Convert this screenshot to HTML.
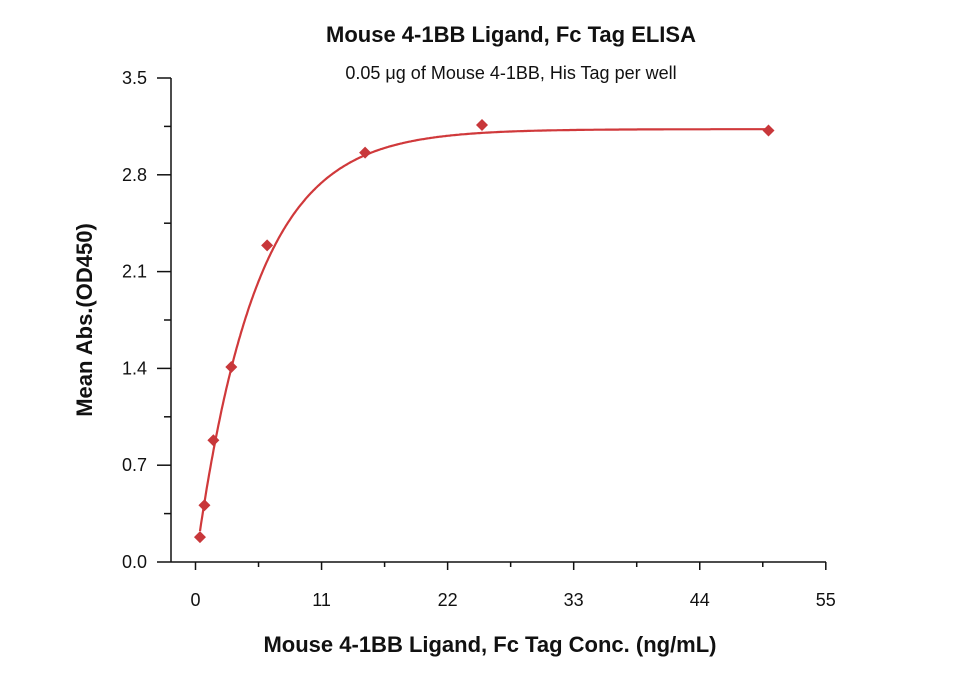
<!DOCTYPE html>
<html><head><meta charset="utf-8"><style>
html,body{margin:0;padding:0;background:#fff;}
svg{display:block;font-family:"Liberation Sans","DejaVu Sans",sans-serif;}
</style></head><body>
<svg id="chart" width="960" height="674" viewBox="0 0 960 674">
<text x="511" y="42" text-anchor="middle" font-size="22" font-weight="bold" fill="#111">Mouse 4-1BB Ligand, Fc Tag ELISA</text>
<text x="511" y="79" text-anchor="middle" font-size="18" fill="#111">0.05 μg of Mouse 4-1BB, His Tag per well</text>
<text x="490" y="652" text-anchor="middle" font-size="22" font-weight="bold" fill="#111">Mouse 4-1BB Ligand, Fc Tag Conc. (ng/mL)</text>
<text transform="translate(92,320) rotate(-90)" text-anchor="middle" font-size="22" font-weight="bold" fill="#111">Mean Abs.(OD450)</text>
<g id="axes"></g>
<g id="plot"></g>
</svg>
<script>
const xValues=[0.39,0.78,1.56,3.125,6.25,14.8,25,50];
const yValues=[0.18,0.41,0.88,1.41,2.29,2.96,3.16,3.12];
const xTicks=[0,11,22,33,44,55];
const yTicks=[0.0,0.7,1.4,2.1,2.8,3.5];
const fitTop=3.13, fitRate=0.19;
const NS="http://www.w3.org/2000/svg";
const X0=195.5,XS=11.46,Y0=562,YS=(562-78)/3.5;
const sx=v=>X0+v*XS, sy=v=>Y0-v*YS;
const axes=document.getElementById('axes'),plot=document.getElementById('plot');
function mk(t,a,p){const e=document.createElementNS(NS,t);for(const k in a)e.setAttribute(k,a[k]);p.appendChild(e);return e;}
let l=mk('line',{x1:171,y1:Y0,x2:826,y2:Y0,stroke:'#111','stroke-width':1.5},axes);


l=mk('line',{x1:171,y1:78,x2:171,y2:Y0,stroke:'#111','stroke-width':1.5},axes);


xTicks.forEach((v,i)=>{
 mk('line',{x1:sx(v),y1:Y0,x2:sx(v),y2:Y0+8,stroke:'#111','stroke-width':1.5},axes);
 if(i<xTicks.length-1){const m=v+5.5;mk('line',{x1:sx(m),y1:Y0,x2:sx(m),y2:Y0+5,stroke:'#111','stroke-width':1.5},axes);}
 const t=mk('text',{x:sx(v),y:Y0+44,'text-anchor':'middle','font-size':18,fill:'#111'},axes);t.textContent=v;
 
 
});
yTicks.forEach((v,i)=>{
 mk('line',{x1:157,y1:sy(v),x2:171,y2:sy(v),stroke:'#111','stroke-width':1.5},axes);
 if(i<yTicks.length-1){const m=v+0.35;mk('line',{x1:164,y1:sy(m),x2:171,y2:sy(m),stroke:'#111','stroke-width':1.5},axes);}
 const t=mk('text',{x:147,y:sy(v)+6,'text-anchor':'end','font-size':18,fill:'#111'},axes);t.textContent=v.toFixed(1);
 
 
});
let d='';
for(let x=xValues[0];x<=xValues[xValues.length-1];x+=0.1){const y=fitTop*(1-Math.exp(-fitRate*x));d+=(d?'L':'M')+sx(x).toFixed(1)+','+sy(y).toFixed(1);}
const c=mk('path',{d:d,fill:'none',stroke:'#d0393b','stroke-width':2.2},plot);


xValues.forEach((x,i)=>{
 const px=sx(x),py=sy(yValues[i]),r=6;
 const p=mk('polygon',{points:`${px},${py-r} ${px+r},${py} ${px},${py+r} ${px-r},${py}`,fill:'#c8373a'},plot);
 
 
});
</script>
</body></html>
